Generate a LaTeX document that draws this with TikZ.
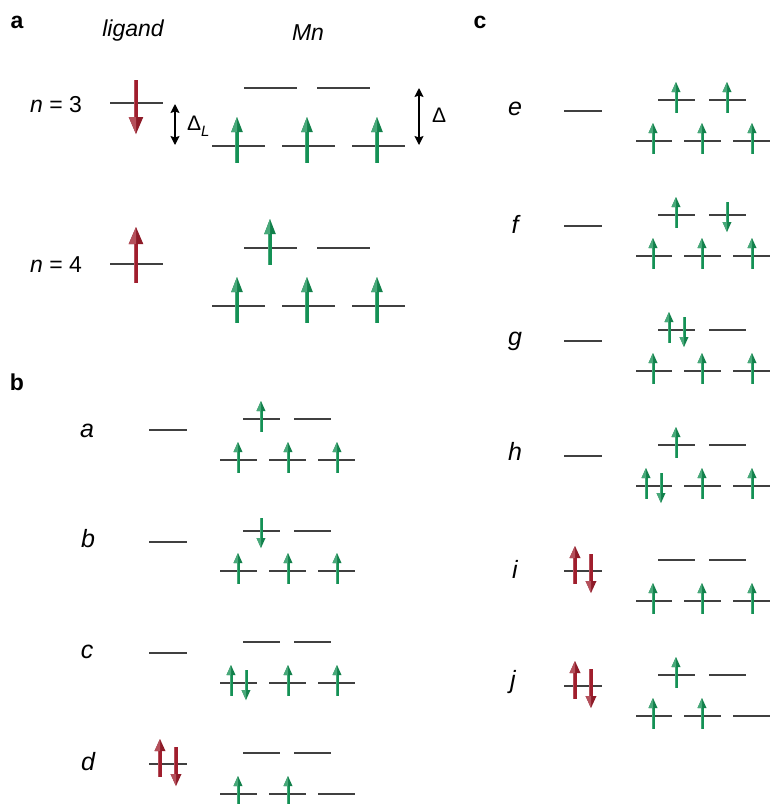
\documentclass[tikz,border=0pt]{standalone}
\usepackage{fontspec}
\setmainfont{Liberation Sans}
\usetikzlibrary{arrows.meta}
\definecolor{spgreen}{RGB}{20,145,85}
\definecolor{spred}{RGB}{160,30,45}
\definecolor{levgray}{RGB}{64,64,64}
\tikzset{
  levelline/.style={draw=levgray,line width=1.3pt},
  txt/.style={inner sep=0pt,anchor=base},
  dblarrow/.style={line width=1.3pt,black,{Stealth[length=9pt,width=9pt,inset=1.5pt]}-{Stealth[length=9pt,width=9pt,inset=1.5pt]}},
}
% x, tail y, tip y, shaft half, head half, head len, colour
\newcommand{\myup}[7]{%
  \fill[#7] ({#1-#4},{#2}) rectangle ({#1+#4},{#3+#6-0.5});
  \fill[#7!78!white] ({#1-#4},{#2}) rectangle ({#1-#4*0.3},{#3+#6-0.5});
  \fill[#7!88!black] ({#1-#5},{#3+#6}) -- ({#1},{#3}) -- ({#1+#5},{#3+#6}) -- cycle;
  \fill[#7!78!white] ({#1-#5},{#3+#6}) -- ({#1},{#3}) -- ({#1},{#3+#6}) -- cycle;
}
\newcommand{\mydn}[7]{%
  \fill[#7] ({#1-#4},{#2}) rectangle ({#1+#4},{#3-#6+0.5});
  \fill[#7!78!white] ({#1-#4},{#2}) rectangle ({#1-#4*0.3},{#3-#6+0.5});
  \fill[#7!88!black] ({#1-#5},{#3-#6}) -- ({#1},{#3}) -- ({#1+#5},{#3-#6}) -- cycle;
  \fill[#7!78!white] ({#1-#5},{#3-#6}) -- ({#1},{#3}) -- ({#1},{#3-#6}) -- cycle;
}
\newcommand{\gup}[2]{\myup{#1}{#2+13}{#2-18}{1.5}{4.5}{10}{spgreen}}
\newcommand{\gdn}[2]{\mydn{#1}{#2-13}{#2+17}{1.5}{4.5}{10}{spgreen}}
\newcommand{\gupB}[2]{\myup{#1}{#2+17}{#2-29}{2.1}{5.8}{15}{spgreen}}
\newcommand{\lev}[3]{\draw[levelline] (#1,#3) -- (#2,#3);}
\newcommand{\mnb}[2]{\lev{243}{280}{#1}\lev{294}{331}{#1}\lev{220}{257}{#2}\lev{269}{306}{#2}\lev{318}{355}{#2}}
\newcommand{\mnc}[2]{\lev{658}{695}{#1}\lev{709}{746}{#1}\lev{636}{672}{#2}\lev{684}{721}{#2}\lev{733}{770}{#2}}
\newcommand{\redpair}[2]{%
  \myup{#1}{#2+13}{#2-25}{2}{5.5}{12}{spred}
  \mydn{#1+16}{#2-17}{#2+22}{2}{5.5}{12}{spred}}
\newcommand{\labfont}{\fontsize{25}{25}\selectfont\itshape}
\newcommand{\hdfont}{\fontsize{23}{23}\selectfont\itshape}
\newcommand{\nfont}{\fontsize{23}{23}\selectfont}
\newcommand{\panfont}{\fontsize{23}{23}\selectfont\bfseries}
\begin{document}
\begin{tikzpicture}[x=1pt,y=-1pt]
\useasboundingbox (0,0) rectangle (770,804);
% ---------------- panel a ----------------
\node[txt] (pa) at (17,28) {\panfont a};
\node[txt] (hlig) at (133,36) {\hdfont ligand};
\node[txt] (hmn) at (308,40) {\hdfont Mn};
\node[txt] (n3) at (56,112) {\nfont\textit{n} = 3};
\node[txt] (n4) at (56,272) {\nfont\textit{n} = 4};
% n = 3
\lev{110}{163}{103}
\mydn{136}{80}{134}{2.3}{7.3}{17}{spred}
\lev{244}{297}{88}\lev{317}{370}{88}
\lev{212}{265}{146}\lev{282}{335}{146}\lev{352}{405}{146}
\gupB{237}{146}\gupB{307}{146}\gupB{377}{146}
\coordinate (dLtop) at (175,104);
\coordinate (dLbot) at (175,145);
\draw[dblarrow] (dLtop) -- (dLbot);
\node[inner sep=0pt,anchor=base west] (dL) at (187,130) {\fontsize{21}{21}\selectfont Δ\raisebox{-6pt}{\fontsize{15}{15}\selectfont\itshape L}};
\coordinate (dtop) at (419,88);
\coordinate (dbot) at (419,145);
\draw[dblarrow] (dtop) -- (dbot);
\node[inner sep=0pt,anchor=base west] (dD) at (432,122) {\fontsize{21}{21}\selectfont Δ};
% n = 4
\lev{110}{163}{264}
\myup{136}{283}{227}{2.3}{7.3}{17}{spred}
\lev{244}{297}{248}\lev{317}{370}{248}
\gupB{270}{248}
\lev{212}{265}{306}\lev{282}{335}{306}\lev{352}{405}{306}
\gupB{237}{306}\gupB{307}{306}\gupB{377}{306}
% ---------------- panel b ----------------
\node[txt] (pb) at (17,390) {\panfont b};
% a
\node[txt] (la) at (87,437) {\labfont a};
\lev{149}{187}{430}
\mnb{419}{460}
\gup{261}{419}
\gup{238}{460}\gup{288}{460}\gup{337}{460}
% b
\node[txt] (lb) at (88,547) {\labfont b};
\lev{149}{187}{542}
\mnb{531}{571}
\gdn{261}{531}
\gup{238}{571}\gup{288}{571}\gup{337}{571}
% c
\node[txt] (lc) at (87,658) {\labfont c};
\lev{149}{187}{653}
\mnb{642}{683}
\gup{231}{683}\gdn{246}{683}
\gup{288}{683}\gup{337}{683}
% d
\node[txt] (ld) at (88,770) {\labfont d};
\lev{149}{187}{764}
\redpair{160}{764}
\mnb{753}{794}
\gup{238}{794}\gup{288}{794}
% ---------------- panel c ----------------
\node[txt] (pc) at (480,28) {\panfont c};
% e
\node[txt] (le) at (515,115) {\labfont e};
\lev{564}{602}{111}
\mnc{100}{141}
\gup{676}{100}\gup{727}{100}
\gup{653}{141}\gup{702}{141}\gup{752}{141}
% f
\node[txt] (lf) at (515,233) {\labfont f};
\lev{564}{602}{226}
\mnc{215}{256}
\gup{676}{215}\gdn{727}{215}
\gup{653}{256}\gup{702}{256}\gup{752}{256}
% g
\node[txt] (lg) at (515,345) {\labfont g};
\lev{564}{602}{341}
\mnc{330}{371}
\gup{669}{330}\gdn{684}{330}
\gup{653}{371}\gup{702}{371}\gup{752}{371}
% h
\node[txt] (lh) at (515,460) {\labfont h};
\lev{564}{602}{456}
\mnc{445}{486}
\gup{676}{445}
\gup{646}{486}\gdn{661}{486}
\gup{702}{486}\gup{752}{486}
% i
\node[txt] (li) at (515,578) {\labfont i};
\lev{564}{602}{571}
\redpair{575}{571}
\mnc{560}{601}
\gup{653}{601}\gup{702}{601}\gup{752}{601}
% j
\node[txt] (lj) at (513,688) {\labfont j};
\lev{564}{602}{686}
\redpair{575}{686}
\mnc{675}{716}
\gup{676}{675}
\gup{653}{716}\gup{702}{716}
\end{tikzpicture}
\end{document}
